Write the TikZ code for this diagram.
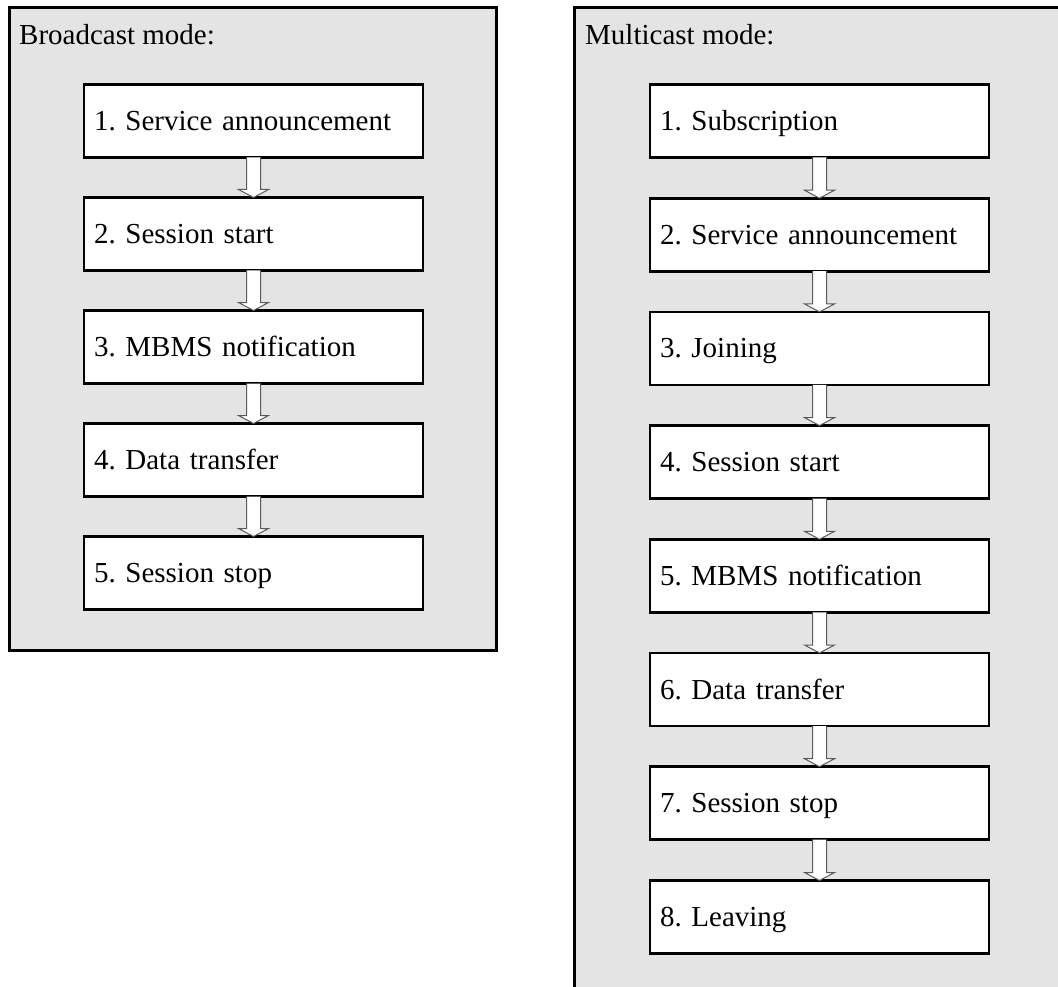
\documentclass[tikz,border=0pt]{standalone}
\usepackage{fontspec}
\setmainfont{Liberation Serif}
\usetikzlibrary{calc}
\frenchspacing
\definecolor{panelgray}{HTML}{E4E4E4}
\definecolor{arrowline}{HTML}{5A5A5A}
\tikzset{
  panel/.style={draw=black, fill=panelgray, line width=3pt},
  stepbox/.style={draw=black, fill=white, line width=2.8pt, rectangle,
    minimum width=339pt, minimum height=73pt, text width=319pt,
    inner xsep=10pt, inner ysep=0pt, align=left, outer sep=0pt,
    text height=24pt, text depth=5pt,
    font=\fontsize{29}{34}\selectfont},
  title/.style={anchor=base west, inner sep=0pt, font=\fontsize{29}{34}\selectfont},
  flow/.style={draw=arrowline, fill=white, line width=1pt, line join=miter}
}
% hollow block arrow between two stacked boxes
\newcommand{\flowarrow}[2]{%
  \draw[flow] ($(#1.south)+(-7,0)$) -- ($(#2.north)+(-7,-8)$)
    -- ($(#2.north)+(-15,-8)$) -- (#2.north) -- ($(#2.north)+(15,-8)$)
    -- ($(#2.north)+(7,-8)$) -- ($(#1.south)+(7,0)$);}
\begin{document}
\begin{tikzpicture}[x=1pt, y=-1pt]
\useasboundingbox (0,0) rectangle (1058,987);
\clip (0,0) rectangle (1058,987);

% broadcast panel
\path[panel] (9.5,8) rectangle (496.5,650);
\node[title] (btitle) at (19,45) {Broadcast mode:};

% multicast panel (runs past the page edge)
\path[panel] (574,7.5) rectangle (1075,1000);
\node[title] (mtitle) at (585,45) {Multicast mode:};

% broadcast steps
\node[stepbox] (b1) at (253.5,121) {1. Service announcement};
\node[stepbox] (b2) at (253.5,234) {2. Session start};
\node[stepbox] (b3) at (253.5,347) {3. MBMS notification};
\node[stepbox] (b4) at (253.5,460) {4. Data transfer};
\node[stepbox] (b5) at (253.5,573) {5. Session stop};

% multicast steps
\node[stepbox] (m1) at (819.5,121)   {1. Subscription};
\node[stepbox] (m2) at (819.5,234.7) {2. Service announcement};
\node[stepbox] (m3) at (819.5,348.4) {3. Joining};
\node[stepbox] (m4) at (819.5,462.1) {4. Session start};
\node[stepbox] (m5) at (819.5,575.8) {5. MBMS notification};
\node[stepbox] (m6) at (819.5,689.5) {6. Data transfer};
\node[stepbox] (m7) at (819.5,803.2) {7. Session stop};
\node[stepbox] (m8) at (819.5,917)   {8. Leaving};

% arrows between consecutive steps
\flowarrow{b1}{b2}
\flowarrow{b2}{b3}
\flowarrow{b3}{b4}
\flowarrow{b4}{b5}
\flowarrow{m1}{m2}
\flowarrow{m2}{m3}
\flowarrow{m3}{m4}
\flowarrow{m4}{m5}
\flowarrow{m5}{m6}
\flowarrow{m6}{m7}
\flowarrow{m7}{m8}
\end{tikzpicture}
\end{document}
